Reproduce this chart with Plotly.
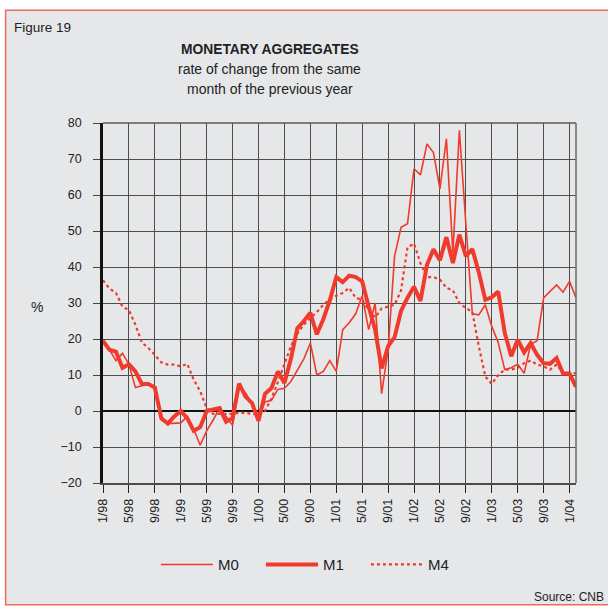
import plotly.graph_objects as go

# Monthly observations from 1/98 to 2/04 (74 months)
months = [f"{m}/{y:02d}" for y in [98, 99, 0, 1, 2, 3] for m in range(1, 13)] + ["1/04", "2/04"]

m0 = [19.5, 17, 14, 16, 13, 6.5, 7, 7.5, 6.5, -2.5, -3.5, -3.5,
      -3.3, -1.5, -5, -9.5, -5.5, -2.5, 0.8, -1.5, -4, 7, 5, 2,
      -1.5, 2.5, 3, 6, 6.3, 8.2, 11.5, 14.5, 18.9, 10, 11, 14,
      11, 22.6, 24.5, 27, 32, 22.6, 30, 4.8, 17, 43, 51, 52,
      67.3, 65.6, 74.2, 71.8, 61.7, 75.6, 44, 78, 52, 27, 26.7, 29.5,
      23.5, 19, 11.5, 12, 13, 10.5, 18.5, 19.5, 31.4, 33.2, 35, 33,
      36, 31.5]

m1 = [19.5, 17, 16.5, 12, 13, 11, 7.5, 7.5, 6.5, -2, -3.5, -1.5,
      0, -2, -5.5, -4.5, 0, 0.3, 0.8, -3, -2, 7.6, 4, 2.2,
      -2.7, 4.8, 6.4, 11, 7.8, 14.5, 23, 25, 27.3, 21.3, 25.5, 30.7,
      37.2, 35.8, 37.6, 37.2, 36, 29, 22.6, 11.8, 18, 20.5, 27.8, 31.5,
      34.5, 30.6, 40.6, 44.9, 41.9, 48.3, 41.1, 49, 43, 45, 38.5, 30.9,
      31.6, 33.2, 21.7, 15.2, 19.8, 16.3, 18.9, 15.6, 13.3, 13.1, 14.7, 10.4,
      10.4, 6.7]

m4 = [36.3, 34, 32.8, 29, 28, 24, 19, 17.5, 15.6, 13.5, 12.9, 12.9,
      12.4, 13.1, 8.7, 5.5, 0.8, -0.8, -0.8, -0.8, -0.8, -0.5, -0.5, -0.8,
      -1, 0, 3.5, 8, 13, 18, 21.5, 24, 25.8, 27.5, 29.5, 31,
      32, 32.8, 34.2, 31.4, 30.9, 28, 26, 28.5, 29, 29.5, 33.5, 45.5,
      46.5, 41, 37.2, 37.2, 36.5, 34.2, 33.5, 30, 28.6, 27.5, 18, 9.6,
      7.5, 10, 11.5, 11.5, 12, 13.3, 14, 12.9, 12.4, 11.5, 12.9, 10.6,
      10.3, 10.5]

tick_labels = ["1/98", "5/98", "9/98", "1/99", "5/99", "9/99", "1/00", "5/00", "9/00",
               "1/01", "5/01", "9/01", "1/02", "5/02", "9/02", "1/03", "5/03", "9/03", "1/04"]
y_ticks = [-20, -10, 0, 10, 20, 30, 40, 50, 60, 70, 80]
y_tick_text = ["\u221220", "\u221210", "0", "10", "20", "30", "40", "50", "60", "70", "80"]

x_idx = list(range(len(months)))
tick_pos = [months.index(t) for t in tick_labels]

RED = "#f03a2c"
BG = "#e6e7e9"
FONT = "Liberation Sans, Arial, sans-serif"

# pixel helpers for layout decoration (plot area: x 103..576.5, y 123.3..483.3)
L, R, T, B = 103.0, 576.5, 123.3, 483.3
W, H = R - L, B - T


def px(x):
    return (x - L) / W


def py(y):
    return (B - y) / H


fig = go.Figure()
fig.add_trace(go.Scatter(x=x_idx, y=m0, mode="lines", name="M0",
                         line=dict(color=RED, width=1.6)))
fig.add_trace(go.Scatter(x=x_idx, y=m1, mode="lines", name="M1",
                         line=dict(color=RED, width=4)))
fig.add_trace(go.Scatter(x=x_idx, y=m4, mode="lines", name="M4",
                         line=dict(color=RED, width=2.2, dash="dot")))

fig.update_layout(
    width=608, height=606, autosize=False,
    paper_bgcolor="white", plot_bgcolor=BG,
    margin=dict(l=L, r=608 - R, t=T, b=606 - B),
    font=dict(family=FONT, color="#222222", size=12),
    showlegend=True,
    legend=dict(orientation="h", x=px(156), xanchor="left", y=py(565), yanchor="middle",
                bgcolor="rgba(0,0,0,0)", font=dict(size=15, color="#222"),
                itemwidth=52, entrywidth=38, entrywidthmode="pixels", tracegroupgap=0),
    shapes=[
        dict(type="rect", xref="paper", yref="paper", layer="below",
             x0=px(5.5), x1=px(625), y0=py(605), y1=py(10.5),
             line=dict(color="#f06a5c", width=1.5), fillcolor=BG),
        dict(type="line", xref="paper", yref="paper", x0=0, x1=1, y0=1, y1=1,
             line=dict(color="#5a5a5a", width=1.5)),
        dict(type="line", xref="paper", yref="paper", x0=1, x1=1, y0=0, y1=1,
             line=dict(color="#6a6a6a", width=1.5)),
    ],
    annotations=[
        dict(text="Figure 19", xref="paper", yref="paper", x=px(12), y=py(28),
             xanchor="left", yanchor="middle", showarrow=False, font=dict(size=13.5, color="#222")),
        dict(text="<b>MONETARY AGGREGATES</b>", xref="paper", yref="paper",
             x=px(270), y=py(50),
             xanchor="center", yanchor="middle", showarrow=False, font=dict(size=13.8, color="#222")),
        dict(text="rate of change from the same", xref="paper", yref="paper",
             x=px(270), y=py(69.5),
             xanchor="center", yanchor="middle", showarrow=False, font=dict(size=14, color="#222")),
        dict(text="month of the previous year", xref="paper", yref="paper",
             x=px(270), y=py(89),
             xanchor="center", yanchor="middle", showarrow=False, font=dict(size=14, color="#222")),
        dict(text="%", xref="paper", yref="paper", x=px(37), y=py(307),
             xanchor="center", yanchor="middle", showarrow=False, font=dict(size=14, color="#222")),
        dict(text="Source: CNB", xref="paper", yref="paper", x=px(607), y=py(597),
             xanchor="right", yanchor="middle", showarrow=False, font=dict(size=12, color="#222")),
    ],
)

fig.update_xaxes(
    range=[0, len(months) - 1], tickmode="array", tickvals=tick_pos, ticktext=tick_labels,
    tickangle=-90, ticks="outside", ticklen=8, tickwidth=1.2, tickcolor="#222",
    ticklabelstandoff=1,
    showgrid=True, gridcolor="#4d4d4d", gridwidth=1.3,
    showline=True, linecolor="#4d4d4d", linewidth=1.5,
    zeroline=False, tickfont=dict(size=12.5, color="#222"), fixedrange=True,
)
fig.update_yaxes(
    range=[-20, 80], tickmode="array", tickvals=y_ticks, ticktext=y_tick_text,
    ticks="outside", ticklen=7, tickwidth=1.2, tickcolor="#444",
    ticklabelstandoff=9,
    showgrid=True, gridcolor="#4d4d4d", gridwidth=1.3,
    showline=True, linecolor="#111", linewidth=2.5,
    zeroline=True, zerolinecolor="#111", zerolinewidth=2.2,
    tickfont=dict(size=12.5, color="#222"), fixedrange=True,
)

fig.write_html("out.html", config={"displayModeBar": False},
               post_script="document.body.style.margin='0';document.body.style.padding='0';"
                           "document.documentElement.style.overflow='hidden';")
